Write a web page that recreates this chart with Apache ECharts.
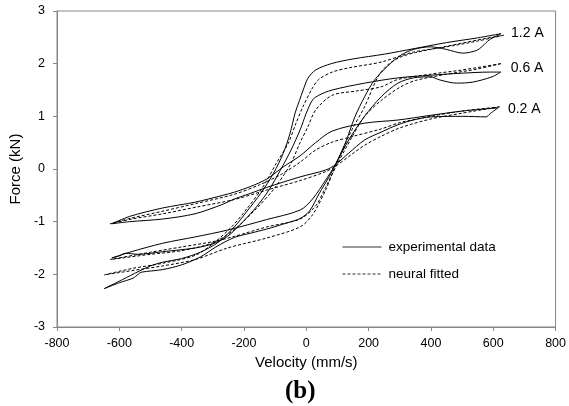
<!DOCTYPE html>
<html>
<head>
<meta charset="utf-8">
<script src="https://cdn.jsdelivr.net/npm/echarts@6/dist/echarts.min.js"></script>
<style>
html,body{margin:0;padding:0;background:#fff;}
#c{width:569px;height:406px;}
</style>
</head>
<body>
<div id="c"></div>
<script>
// Tick values
const xTicks = [-800, -600, -400, -200, 0, 200, 400, 600, 800];
const yTicks = [-3, -2, -1, 0, 1, 2, 3];
const currents = ['1.2 A', '0.6 A', '0.2 A'];

// Experimental data, 1.2 A (upper branch: right end -> left tip; lower: left tip -> right end)
const exp12Upper = [[625,2.57],[550,2.49],[450,2.40],[350,2.29],[250,2.18],[150,2.09],[80,2.00],[30,1.88],[5,1.72],[-10,1.50],[-22,1.30],[-36,1.06],[-52,0.68],[-74,0.30],[-105,-0.08],[-146,-0.46],[-190,-0.80],[-231,-1.10],[-280,-1.38],[-340,-1.58],[-400,-1.70],[-461,-1.77],[-500,-1.84],[-540,-1.95],[-590,-2.10],[-648,-2.27]];
const exp12Lower = [[-648,-2.27],[-600,-2.16],[-555,-2.07],[-540,-2.00],[-530,-1.96],[-461,-1.91],[-400,-1.82],[-340,-1.67],[-290,-1.48],[-231,-1.30],[-180,-1.22],[-127,-1.14],[-60,-1.02],[-20,-0.94],[10,-0.80],[42,-0.46],[73,-0.15],[93,0.08],[125,0.49],[156,0.99],[187,1.37],[219,1.69],[262,1.96],[303,2.16],[344,2.27],[398,2.32],[450,2.27],[502,2.20],[546,2.25],[565,2.33],[587,2.45],[625,2.57]];
// Experimental data, 0.6 A
const exp06Upper = [[624,1.84],[587,1.84],[502,1.82],[398,1.78],[294,1.73],[187,1.63],[83,1.50],[40,1.40],[20,1.31],[0,1.06],[-20,0.74],[-49,0.36],[-83,-0.02],[-120,-0.40],[-160,-0.72],[-200,-0.98],[-253,-1.28],[-300,-1.42],[-357,-1.50],[-461,-1.57],[-540,-1.62],[-580,-1.60],[-600,-1.65],[-624,-1.69]];
const exp06Lower = [[-624,-1.69],[-567,-1.58],[-461,-1.41],[-357,-1.29],[-253,-1.16],[-127,-0.96],[-20,-0.78],[20,-0.57],[62,-0.21],[93,0.08],[136,0.55],[187,1.00],[240,1.37],[294,1.63],[344,1.73],[398,1.75],[429,1.69],[482,1.63],[534,1.65],[596,1.75],[624,1.84]];
// Experimental data, 0.2 A
const exp02Upper = [[615,1.16],[500,1.10],[400,1.02],[294,0.93],[187,0.87],[83,0.72],[30,0.50],[-20,0.25],[-74,0.04],[-127,-0.19],[-178,-0.33],[-231,-0.44],[-268,-0.50],[-357,-0.63],[-461,-0.74],[-567,-0.90],[-624,-1.04]];
const exp02Lower = [[-624,-1.04],[-567,-1.00],[-461,-0.95],[-357,-0.85],[-268,-0.67],[-231,-0.57],[-178,-0.46],[-127,-0.35],[-20,-0.15],[62,-0.02],[93,0.08],[136,0.30],[187,0.55],[240,0.70],[294,0.84],[344,0.93],[400,0.99],[502,1.00],[577,0.99],[590,1.05],[615,1.16]];

// Neural fitted, 1.2 A
const fit12Upper = [[633,2.54],[550,2.43],[450,2.32],[344,2.22],[240,2.03],[136,1.92],[83,1.84],[40,1.70],[20,1.54],[-11,1.18],[-33,0.87],[-58,0.49],[-96,0.11],[-140,-0.35],[-190,-0.75],[-240,-1.10],[-300,-1.42],[-357,-1.64],[-461,-1.79],[-560,-1.89],[-648,-2.01]];
const fit12Lower = [[-648,-2.01],[-560,-1.93],[-461,-1.84],[-357,-1.72],[-253,-1.50],[-127,-1.31],[-20,-1.10],[20,-0.87],[62,-0.40],[93,0.05],[146,0.74],[187,1.18],[230,1.75],[262,1.98],[300,2.12],[350,2.21],[450,2.33],[550,2.45],[633,2.54]];
// Neural fitted, 0.6 A
const fit06Upper = [[624,2.00],[500,1.88],[398,1.80],[294,1.70],[240,1.56],[160,1.48],[83,1.40],[30,1.12],[5,0.80],[-20,0.50],[-50,0.10],[-100,-0.35],[-160,-0.75],[-231,-1.15],[-300,-1.40],[-400,-1.55],[-500,-1.62],[-630,-1.72]];
const fit06Lower = [[-630,-1.72],[-500,-1.58],[-400,-1.48],[-300,-1.38],[-231,-1.28],[-127,-1.10],[-20,-0.95],[30,-0.70],[62,-0.35],[93,0.02],[146,0.60],[187,1.00],[240,1.30],[300,1.55],[350,1.68],[450,1.80],[550,1.90],[624,2.00]];
// Neural fitted, 0.2 A
const fit02Upper = [[620,1.18],[500,1.10],[400,1.00],[300,0.88],[240,0.76],[150,0.62],[83,0.51],[30,0.36],[-20,0.13],[-80,-0.10],[-150,-0.30],[-231,-0.48],[-350,-0.65],[-460,-0.80],[-560,-0.93],[-630,-1.04]];
const fit02Lower = [[-630,-1.04],[-560,-0.95],[-460,-0.85],[-350,-0.72],[-231,-0.58],[-127,-0.40],[-20,-0.22],[62,-0.05],[93,0.05],[146,0.28],[187,0.45],[240,0.62],[300,0.78],[400,0.95],[500,1.06],[620,1.18]];

const FONT = "'Liberation Sans', Arial, sans-serif";
const AXIS_COLOR = '#868686';

function loop(upper, lower) { return upper.concat(lower.slice(1)); }

const expLoops = [loop(exp12Upper, exp12Lower), loop(exp06Upper, exp06Lower), loop(exp02Upper, exp02Lower)];
const fitLoops = [loop(fit12Upper, fit12Lower), loop(fit06Upper, fit06Lower), loop(fit02Upper, fit02Lower)];
const labelOffsets = [[0, -1], [0, -4], [0, 1]];

const series = [];
expLoops.forEach((d, i) => {
  series.push({
    name: 'experimental data', type: 'line', data: d, symbol: 'none', smooth: 0.3,
    lineStyle: { color: '#000', width: 1, type: 'solid' },
    itemStyle: { color: '#000' },
    endLabel: { show: true, formatter: currents[i], color: '#000', fontSize: 14, fontFamily: FONT, distance: 10, offset: labelOffsets[i] },
    z: 3
  });
});
fitLoops.forEach((d) => {
  series.push({
    name: 'neural fitted', type: 'line', data: d, symbol: 'none', smooth: 0.3,
    lineStyle: { color: '#000', width: 1, type: [3, 2] },
    itemStyle: { color: '#000' },
    z: 2
  });
});

const chart = echarts.init(document.getElementById('c'), null, { renderer: 'canvas' });
chart.setOption({
  animation: false,
  backgroundColor: '#fff',
  grid: { left: 49, right: 11, top: 11, bottom: 79, show: true, borderColor: AXIS_COLOR, borderWidth: 1, backgroundColor: 'transparent' },
  xAxis: {
    type: 'value', min: xTicks[0], max: xTicks[xTicks.length - 1], interval: 200,
    name: 'Velocity (mm/s)', nameLocation: 'middle', nameGap: 26,
    nameTextStyle: { color: '#000', fontSize: 15, fontFamily: FONT },
    axisLine: { show: true, onZero: false, lineStyle: { color: AXIS_COLOR, width: 1 } },
    axisTick: { show: true, length: 4, lineStyle: { color: AXIS_COLOR } },
    axisLabel: { color: '#000', fontSize: 12.5, fontFamily: FONT, margin: 10 },
    splitLine: { show: false }
  },
  yAxis: {
    type: 'value', min: yTicks[0], max: yTicks[yTicks.length - 1], interval: 1,
    name: 'Force (kN)', nameLocation: 'middle', nameGap: 25, nameRotate: 90,
    nameTextStyle: { color: '#000', fontSize: 15, fontFamily: FONT },
    axisLine: { show: true, onZero: false, lineStyle: { color: AXIS_COLOR, width: 1 } },
    axisTick: { show: true, length: 4, lineStyle: { color: AXIS_COLOR } },
    axisLabel: { color: '#000', fontSize: 12.5, fontFamily: FONT, margin: 12 },
    splitLine: { show: false }
  },
  legend: {
    data: ['experimental data', 'neural fitted'],
    orient: 'vertical', left: 337, top: 235,
    itemWidth: 39, itemHeight: 14, itemGap: 13,
    itemStyle: { opacity: 0 },
    lineStyle: { width: 1, color: '#333' },
    textStyle: { color: '#000', fontSize: 13.5, fontFamily: FONT, padding: [0, 0, 0, 2] },
    selectedMode: false
  },
  graphic: [{
    type: 'text', left: 285, top: 379,
    style: { text: '(b)', fill: '#000', font: "bold 25px 'Liberation Serif', 'Times New Roman', serif" }
  }],
  series: series
});
</script>
</body>
</html>
